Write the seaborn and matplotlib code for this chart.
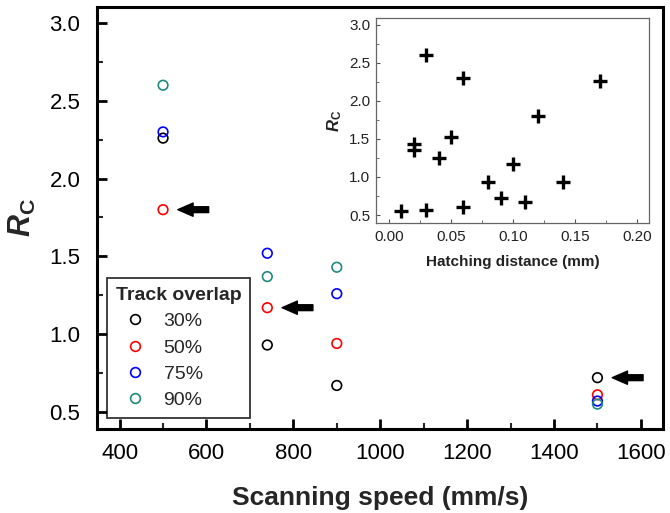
import matplotlib
matplotlib.use("Agg")
import matplotlib.pyplot as plt
import seaborn as sns
import pandas as pd
from matplotlib.lines import Line2D
from matplotlib.ticker import MultipleLocator, FormatStrFormatter

# ---- data ----
overlaps = ["30%", "50%", "75%", "90%"]
speeds = [500, 740, 900, 1500]
rc_30 = [2.26, 0.93, 0.67, 0.72]
rc_50 = [1.80, 1.17, 0.94, 0.61]
rc_75 = [2.30, 1.52, 1.26, 0.57]
rc_90 = [2.60, 1.37, 1.43, 0.55]
colors = ["#000000", "#ff0000", "#0000ff", "#1f8a7f"]
arrow_points = [(500, 1.80), (740, 1.17), (1500, 0.72)]

hatch_dist = [0.01, 0.02, 0.02, 0.03, 0.03, 0.04, 0.05, 0.06, 0.06, 0.08,
              0.09, 0.10, 0.11, 0.12, 0.14, 0.17]
hatch_rc = [0.55, 1.43, 1.36, 2.60, 0.57, 1.25, 1.52, 2.30, 0.61, 0.94,
            0.72, 1.17, 0.67, 1.80, 0.93, 2.26]

main_xticks = [400, 600, 800, 1000, 1200, 1400, 1600]
main_yticks = [0.5, 1.0, 1.5, 2.0, 2.5, 3.0]
inset_xticks = [0.00, 0.05, 0.10, 0.15, 0.20]
inset_yticks = [0.5, 1.0, 1.5, 2.0, 2.5, 3.0]

sns.set_theme(style="white")
plt.rcParams["font.family"] = ["Liberation Sans", "DejaVu Sans"]
plt.rcParams["mathtext.fontset"] = "custom"
plt.rcParams["mathtext.it"] = "Liberation Sans:italic:bold"
plt.rcParams["mathtext.rm"] = "Liberation Sans:bold"
plt.rcParams["mathtext.bf"] = "Liberation Sans:bold"

fig = plt.figure(figsize=(6.7, 5.13), dpi=100)
ax = fig.add_axes([0.1448, 0.1637, 0.8448, 0.8227])

rows = []
for lab, vals in zip(overlaps, [rc_30, rc_50, rc_75, rc_90]):
    for s, v in zip(speeds, vals):
        rows.append({"speed": s, "rc": v, "overlap": lab})
df = pd.DataFrame(rows)

sns.scatterplot(data=df, x="speed", y="rc", hue="overlap", hue_order=overlaps,
                palette=colors, s=48, linewidth=1.2, legend=False, ax=ax, zorder=3)
for coll in ax.collections:
    fc = coll.get_facecolors()
    coll.set_edgecolors(fc)
    coll.set_facecolors("none")

for (sx, sy) in arrow_points:
    ax.annotate("", xy=(sx + 34, sy), xytext=(sx + 105, sy),
                arrowprops=dict(arrowstyle="simple,head_length=1.1,head_width=0.95,tail_width=0.42",
                                color="black", shrinkA=0, shrinkB=0, mutation_scale=10))

ax.set_xlim(348, 1651)
ax.set_ylim(0.39, 3.103)
ax.set_xticks(main_xticks)
ax.set_yticks(main_yticks)
ax.xaxis.set_minor_locator(MultipleLocator(100))
ax.yaxis.set_minor_locator(MultipleLocator(0.25))
ax.yaxis.set_major_formatter(FormatStrFormatter("%.1f"))
ax.tick_params(which="major", direction="in", length=7, width=2, labelsize=16,
               colors="black", left=True, bottom=True)
ax.tick_params(axis="y", which="major", pad=12)
ax.tick_params(axis="x", which="major", pad=10)
ax.tick_params(which="minor", direction="in", length=4, width=1.5, left=True, bottom=True)
for sp in ax.spines.values():
    sp.set_linewidth(2.2)
    sp.set_color("black")
    sp.set_visible(True)
ax.set_xlabel("Scanning speed (mm/s)", fontsize=19, fontweight="bold", labelpad=16)
ax.set_ylabel(r"$R_{\mathrm{C}}$", fontsize=22, labelpad=8)

handles = [Line2D([0], [0], marker="o", ls="", mfc="none", mec=c, mew=1.2, ms=7)
           for c in colors]
leg = ax.legend(handles, overlaps, title="Track overlap", loc="lower left",
                bbox_to_anchor=(0.018, 0.026), borderaxespad=0, fontsize=14,
                title_fontproperties={"weight": "bold", "size": 14},
                frameon=True, fancybox=False, edgecolor="black",
                handletextpad=0.45, labelspacing=0.45, borderpad=0.45,
                handlelength=2.0)
leg.get_frame().set_linewidth(1.3)
leg._legend_box.align = "left"

# ---- inset ----
ax2 = fig.add_axes([0.5612, 0.5653, 0.4075, 0.3996])
sns.scatterplot(x=hatch_dist, y=hatch_rc, marker="+", s=90, color="black",
                linewidth=2.4, ax=ax2, zorder=3)
ax2.set_xlim(-0.0105, 0.2097)
ax2.set_ylim(0.395, 3.09)
ax2.set_xticks(inset_xticks)
ax2.set_yticks(inset_yticks)
ax2.xaxis.set_minor_locator(MultipleLocator(0.025))
ax2.yaxis.set_minor_locator(MultipleLocator(0.25))
ax2.xaxis.set_major_formatter(FormatStrFormatter("%.2f"))
ax2.yaxis.set_major_formatter(FormatStrFormatter("%.1f"))
ax2.tick_params(which="major", direction="in", length=3, width=0.8, labelsize=11,
                colors="#555555", labelcolor="#222222", left=True, bottom=True)
ax2.tick_params(axis="y", which="major", pad=4)
ax2.tick_params(axis="x", which="major", pad=5)
ax2.tick_params(which="minor", direction="in", length=2, width=0.6, colors="#555555",
                left=True, bottom=True)
for sp in ax2.spines.values():
    sp.set_linewidth(0.9)
    sp.set_color("#666666")
    sp.set_visible(True)
ax2.set_xlabel("Hatching distance (mm)", fontsize=11, fontweight="bold", labelpad=8,
               color="#222222")
ax2.set_ylabel(r"$R_{\mathrm{C}}$", fontsize=12, labelpad=4, color="#222222")

fig.savefig("out.png", dpi=100)
